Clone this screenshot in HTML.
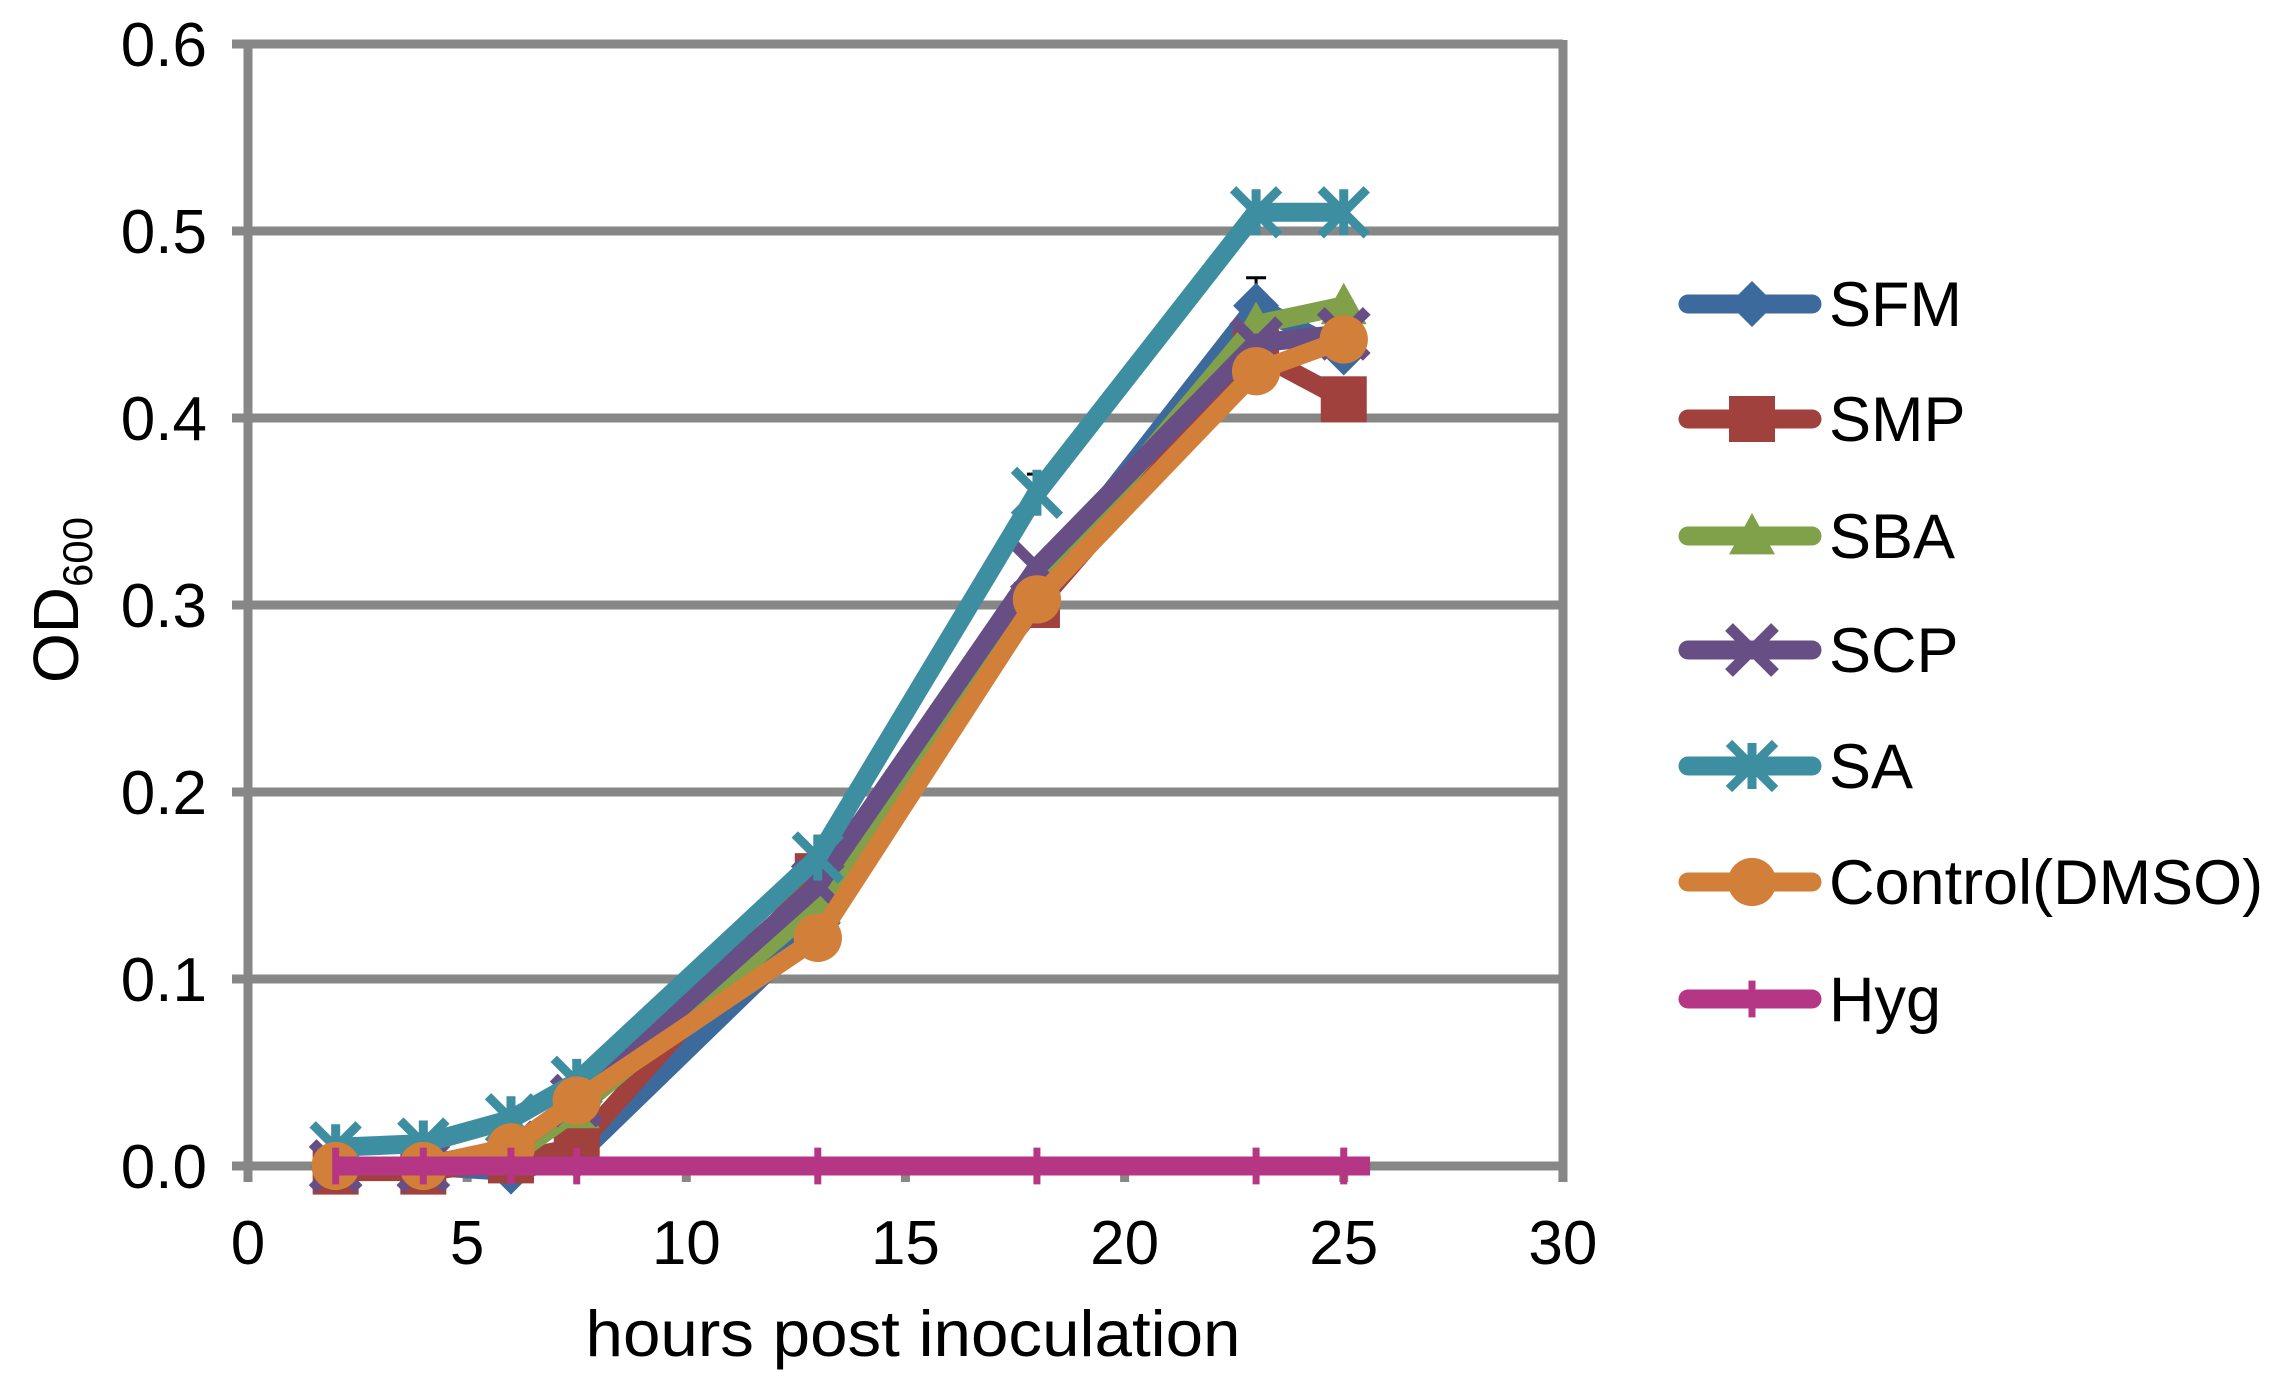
<!DOCTYPE html>
<html><head><meta charset="utf-8"><style>
html,body{margin:0;padding:0;background:#fff;}
svg{display:block;font-family:"Liberation Sans",Arial,sans-serif;}
</style></head><body>
<svg id="c" width="2291" height="1395" viewBox="0 0 2291 1395" xmlns="http://www.w3.org/2000/svg">
<rect width="2291" height="1395" fill="#fff"/>
<g id="grid" stroke="#878787" stroke-width="9" fill="none"></g>
<g id="labels" font-size="62" fill="#000"></g>
<g id="series"></g>
<g id="legend" font-size="63" fill="#000"></g>
<text x="913" y="1356" font-size="65" text-anchor="middle" textLength="655" lengthAdjust="spacingAndGlyphs">hours post inoculation</text>
<text transform="translate(78,600) rotate(-90)" font-size="64" text-anchor="middle">OD<tspan font-size="42" dy="14">600</tspan></text>
</svg>
<script>
const NS="http://www.w3.org/2000/svg";
const X=t=>248+43.83*t, Y=v=>1166-1870*v;
function el(p,tag,a,txt){const e=document.createElementNS(NS,tag);for(const k in a)e.setAttribute(k,a[k]);if(txt!==undefined)e.textContent=txt;p.appendChild(e);return e;}
const g=document.getElementById('grid'),L=document.getElementById('labels');
for(let i=0;i<=6;i++){const y=Y(i/10);el(g,'line',{x1:232,x2:1563,y1:y,y2:y});
 el(L,'text',{x:207,y:y+22,'text-anchor':'end'},(i/10).toFixed(1));}
el(g,'line',{x1:248,x2:248,y1:40,y2:1182});
el(g,'line',{x1:1563,x2:1563,y1:40,y2:1182});
for(let t=0;t<=30;t+=5){el(g,'line',{x1:X(t),x2:X(t),y1:1166,y2:1182});
 el(L,'text',{x:X(t),y:1264,'text-anchor':'middle'},t);}
const T=[2,4,6,7.5,13,18,23,25];
const S=[
 ['SFM','#3d6a9c','d',[0,0,-0.003,0.005,0.13,0.31,0.46,0.435]],
 ['SMP','#a0413d','s',[-0.003,-0.003,0.003,0.01,0.155,0.3,0.435,0.41]],
 ['SBA','#80a04a','t',[0,0,0.005,0.03,0.14,0.31,0.45,0.46]],
 ['SCP','#674f85','x',[0,0,0.01,0.035,0.15,0.32,0.44,0.445]],
 ['SA','#3c8ea0','a',[0.01,0.012,0.025,0.045,0.165,0.36,0.51,0.51]],
 ['Control(DMSO)','#d27f3a','o',[0,0,0.01,0.035,0.122,0.303,0.425,0.442]],
 ['Hyg','#b43685','p',[0,0,0,0,0,0,0,0]]];
function marker(p,type,c,x,y,sz){
 sz=sz||1;const r=23*sz;
 if(type=='d')el(p,'polygon',{points:`${x},${y-r} ${x+r},${y} ${x},${y+r} ${x-r},${y}`,fill:c});
 else if(type=='s')el(p,'rect',{x:x-r,y:y-r,width:2*r,height:2*r,fill:c});
 else if(type=='t')el(p,'polygon',{points:`${x},${y-r} ${x+r},${y+r*0.8} ${x-r},${y+r*0.8}`,fill:c});
 else if(type=='x'){el(p,'path',{d:`M${x-r} ${y-r}L${x+r} ${y+r}M${x+r} ${y-r}L${x-r} ${y+r}`,stroke:c,'stroke-width':11});}
 else if(type=='a'){el(p,'path',{d:`M${x-r} ${y-r}L${x+r} ${y+r}M${x+r} ${y-r}L${x-r} ${y+r}M${x} ${y-r}V${y+r}`,stroke:c,'stroke-width':9});}
 else if(type=='o')el(p,'circle',{cx:x,cy:y,r:r*1.05,fill:c});
 else if(type=='p')el(p,'path',{d:`M${x} ${y-r*0.8}V${y+r*0.8}`,stroke:c,'stroke-width':7});
}
const SG=document.getElementById('series');
[[23,0.475,0.46],[23,0.515,0.51],[25,0.462,0.45],[25,0.515,0.51],[18,0.37,0.36]].forEach(([t,a,b])=>{
 el(SG,'path',{d:`M${X(t)} ${Y(a)}V${Y(b)}M${X(t)-10} ${Y(a)}H${X(t)+10}`,stroke:'#000','stroke-width':3});});
S.forEach(([n,c,m,v])=>{
 let pts=T.map((t,j)=>X(t)+','+Y(v[j]));
 if(m=='p')pts.push(X(25.6)+','+Y(0));
 el(SG,'polyline',{points:pts.join(' '),fill:'none',stroke:c,'stroke-width':19,'stroke-linejoin':'round'});
 T.forEach((t,j)=>marker(SG,m,c,X(t),Y(v[j])));
});
const LG=document.getElementById('legend');
const ly=[304,419,536,650,766,882,999];
S.forEach(([n,c,m],i)=>{const y=ly[i];
 el(LG,'line',{x1:1688,x2:1812,y1:y,y2:y,stroke:c,'stroke-width':19,'stroke-linecap':'round'});
 marker(LG,m,c,1752,y,1.0);
 el(LG,'text',{x:1829,y:y+22},n);
});
</script>
</body></html>
